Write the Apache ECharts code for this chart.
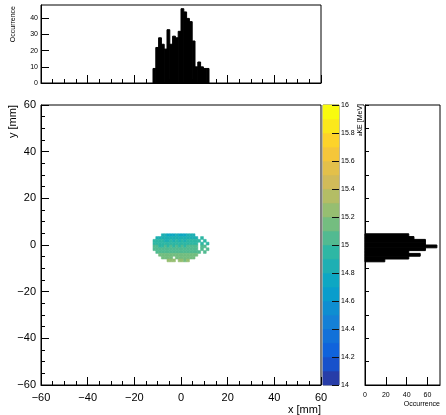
<!DOCTYPE html>
<html><head><meta charset="utf-8">
<script src="https://cdn.jsdelivr.net/npm/echarts@6/dist/echarts.min.js"></script>
<style>html,body{margin:0;padding:0;background:#fff}#c{width:446px;height:415px}</style>
</head><body><div id="c"></div>
<script>
// ---------- data ----------
const binWidth = 1.2;
const topHistStart = -12;
const topHistCounts = [9, 22, 28, 24, 21, 33, 24, 29, 28, 32, 46, 44, 40, 38, 26, 10, 13, 10, 9, 9];
const rightHistStart = -7.2;
const rightHistCounts = [19, 42, 53, 42, 58, 69, 58, 58, 47, 42];
const cellXStart = -12;
const rowYLow = [3.6, 2.4, 1.2, 0, -1.2, -2.4, -3.6, -4.8, -6, -7.2];
const row0 = [null,null,null,14.82,14.80,14.78,14.79,14.77,14.80,14.78,14.77,14.79,14.80,14.82,14.84,null,null,null,null,null];
const row1 = [null,14.88,14.86,14.84,14.82,14.81,14.83,14.80,14.83,14.81,14.83,14.85,14.83,14.85,14.87,14.89,null,14.90,null,null];
const row2 = [14.94,14.93,14.91,14.90,14.88,14.88,14.90,14.88,14.90,14.88,14.90,14.88,14.90,14.91,14.92,14.93,14.94,null,14.93,null];
const row3 = [14.97,14.96,14.95,14.94,14.95,14.94,14.95,14.93,14.95,14.94,14.95,14.94,14.95,14.96,14.95,14.97,null,14.96,null,14.97];
const row4 = [15.01,15.00,14.99,14.99,15.00,14.98,15.00,14.99,15.00,14.99,15.00,14.99,15.00,15.01,15.00,15.02,null,15.01,15.02,null];
const row5 = [15.04,15.03,15.02,15.03,15.02,15.03,15.02,15.03,15.02,15.03,15.02,15.03,15.04,15.03,15.04,15.05,null,15.04,null,15.03];
const row6 = [null,15.08,15.07,15.06,15.07,15.06,15.07,15.06,15.07,15.06,15.07,15.08,15.07,15.08,15.07,15.08,15.09,null,15.08,null];
const row7 = [null,null,15.13,15.12,15.13,15.12,15.13,15.11,15.13,15.12,15.13,15.12,15.14,15.13,15.14,15.15,null,null,null,null];
const row8 = [null,null,null,15.17,15.16,15.17,15.16,null,15.17,15.15,15.17,15.16,15.17,15.18,15.17,null,null,null,null,null];
const row9 = [null,null,null,null,null,15.21,15.20,15.22,null,15.20,15.21,15.19,15.22,null,null,null,null,null,null,null];
const colorLevels = [14.0,14.1,14.2,14.3,14.4,14.5,14.6,14.7,14.8,14.9,15.0,15.1,15.2,15.3,15.4,15.5,15.6,15.7,15.8,15.9];

// ---------- palette (ROOT kBird) ----------
const birdStops = [0, 0.125, 0.25, 0.375, 0.5, 0.625, 0.75, 0.875, 1];
const birdR = [0.2082, 0.0592, 0.0780, 0.0232, 0.1802, 0.5301, 0.8186, 0.9956, 0.9764];
const birdG = [0.1664, 0.3599, 0.5041, 0.6419, 0.7178, 0.7492, 0.7328, 0.7862, 0.9832];
const birdB = [0.5293, 0.8684, 0.8385, 0.7914, 0.6425, 0.4662, 0.3499, 0.1968, 0.0539];
function bird(f) {
  f = Math.max(0, Math.min(1, f));
  let k = 0;
  while (k < birdStops.length - 2 && f > birdStops[k + 1]) k++;
  const t = (f - birdStops[k]) / (birdStops[k + 1] - birdStops[k]);
  const c = a => Math.round(255 * (a[k] + t * (a[k + 1] - a[k])));
  return 'rgb(' + c(birdR) + ',' + c(birdG) + ',' + c(birdB) + ')';
}
const bandColors = colorLevels.map((l, i) => bird(Math.floor((i + 0.99) * 255 / 20) / 254));

// ---------- build series data ----------
const rows = [row0,row1,row2,row3,row4,row5,row6,row7,row8,row9];
const cellData = [];
rows.forEach((r, ri) => r.forEach((v, ci) => {
  if (v !== null) cellData.push([cellXStart + ci * binWidth, rowYLow[ri], v]);
}));
const topData = topHistCounts.map((c, i) => [topHistStart + i * binWidth, c]);
const rightData = rightHistCounts.map((c, i) => [rightHistStart + i * binWidth, c]);
const barData = colorLevels.map(l => [0, l, l + 0.05]);

const FONT = "'Liberation Sans', Arial, Helvetica, sans-serif";
const minus = v => String(v).replace('-', '\u2212');

function baseAxis(extra) {
  return Object.assign({
    type: 'value',
    axisLine: { show: true, onZero: false, lineStyle: { color: '#000', width: 1 } },
    axisTick: { show: true, inside: true, length: 8, lineStyle: { color: '#000', width: 1 } },
    minorTick: { show: true, splitNumber: 4, length: 4, lineStyle: { color: '#000', width: 1 } },
    splitLine: { show: false },
    minorSplitLine: { show: false },
    axisLabel: { show: true, color: '#000', fontFamily: FONT, fontSize: 11, formatter: minus }
  }, extra);
}

const chart = echarts.init(document.getElementById('c'), null, { renderer: 'canvas' });
chart.setOption({
  animation: false,
  backgroundColor: '#fff',
  textStyle: { fontFamily: FONT },
  grid: [
    { left: 41, top: 105, width: 280, height: 280, show: true, borderColor: '#000', borderWidth: 1, backgroundColor: 'transparent' },
    { left: 41, top: 5, width: 280, height: 78, show: true, borderColor: '#000', borderWidth: 1, backgroundColor: 'transparent' },
    { left: 365, top: 105, width: 75, height: 280, show: true, borderColor: '#000', borderWidth: 1, backgroundColor: 'transparent' },
    { left: 323, top: 105, width: 16, height: 280, show: true, borderColor: '#666', borderWidth: 1, backgroundColor: 'transparent' }
  ],
  xAxis: [
    baseAxis({ gridIndex: 0, min: -60, max: 60, interval: 20, axisLabel: { color: '#000', fontFamily: FONT, fontSize: 11, margin: 7, formatter: minus } }),
    baseAxis({ gridIndex: 1, min: -60, max: 60, interval: 20, axisLabel: { show: false } }),
    baseAxis({ gridIndex: 2, min: 0, max: 72, interval: 20, minorTick: { show: false },
      axisLabel: { color: '#000', fontFamily: FONT, fontSize: 7, margin: 7, showMaxLabel: false } }),
    { type: 'value', gridIndex: 3, min: 0, max: 1, show: false }
  ],
  yAxis: [
    baseAxis({ gridIndex: 0, min: -60, max: 60, interval: 20, axisLabel: { color: '#000', fontFamily: FONT, fontSize: 11, margin: 5, formatter: minus } }),
    baseAxis({ gridIndex: 1, min: 0, max: 48.3, interval: 10, minorTick: { show: false },
      axisLabel: { color: '#000', fontFamily: FONT, fontSize: 7, margin: 3, showMaxLabel: false } }),
    baseAxis({ gridIndex: 2, min: -60, max: 60, interval: 10, minorTick: { show: false }, axisLabel: { show: false },
      axisTick: { show: true, inside: true, length: 4, lineStyle: { color: '#000', width: 1 } } }),
    { type: 'value', gridIndex: 3, min: 14, max: 16, interval: 0.2, position: 'right', z: 10,
      axisLine: { show: false, onZero: false }, splitLine: { show: false },
      axisTick: { show: true, inside: true, length: 7, lineStyle: { color: '#111', width: 1 } },
      axisLabel: { color: '#000', fontFamily: FONT, fontSize: 7, margin: 2 } }
  ],
  visualMap: {
    type: 'piecewise', show: false, dimension: 2, seriesIndex: [0, 3],
    pieces: colorLevels.map((l, i) => i === colorLevels.length - 1
      ? { gte: l, lte: 16, color: bandColors[i] }
      : { gte: l, lt: colorLevels[i + 1], color: bandColors[i] })
  },
  series: [
    { type: 'custom', xAxisIndex: 0, yAxisIndex: 0, data: cellData, encode: { x: 0, y: 1 }, clip: true,
      renderItem: (p, api) => {
        const x0 = api.value(0), y0 = api.value(1);
        const a = api.coord([x0, y0 + binWidth]), b = api.coord([x0 + binWidth, y0]);
        const col = api.visual('color');
        return { type: 'rect', shape: { x: a[0], y: a[1], width: b[0] - a[0], height: b[1] - a[1] },
          style: { fill: col, stroke: col, lineWidth: 0.6 } };
      } },
    { type: 'custom', xAxisIndex: 1, yAxisIndex: 1, data: topData, encode: { x: 0, y: 1 },
      renderItem: (p, api) => {
        const x0 = api.value(0), c = api.value(1);
        const a = api.coord([x0, c]), b = api.coord([x0 + binWidth, 0]);
        return { type: 'rect', shape: { x: a[0], y: a[1], width: b[0] - a[0], height: b[1] - a[1] },
          style: { fill: '#000', stroke: '#000', lineWidth: 1 } };
      } },
    { type: 'custom', xAxisIndex: 2, yAxisIndex: 2, data: rightData, encode: { x: 1, y: 0 },
      renderItem: (p, api) => {
        const y0 = api.value(0), c = api.value(1);
        const a = api.coord([0, y0 + binWidth]), b = api.coord([c, y0]);
        return { type: 'rect', shape: { x: a[0], y: a[1], width: b[0] - a[0], height: b[1] - a[1] },
          style: { fill: '#000', stroke: '#000', lineWidth: 1 } };
      } },
    { type: 'custom', xAxisIndex: 3, yAxisIndex: 3, data: barData, encode: { x: 0, y: 1 }, z: 1,
      renderItem: (p, api) => {
        const l = api.value(1);
        const a = api.coord([0, l + 0.1]), b = api.coord([1, l]);
        const col = api.visual('color');
        return { type: 'rect', shape: { x: a[0], y: a[1], width: b[0] - a[0], height: b[1] - a[1] },
          style: { fill: col, stroke: col, lineWidth: 0.6 } };
      } }
  ],
  graphic: [
    { type: 'text', x: 321, y: 404, style: { text: 'x [mm]', font: '11px ' + FONT, fill: '#000', align: 'right', verticalAlign: 'top' } },
    { type: 'text', x: 13, y: 105, rotation: Math.PI / 2, style: { text: 'y [mm]', font: '11px ' + FONT, fill: '#000', align: 'right', verticalAlign: 'middle' } },
    { type: 'text', x: 13, y: 6, rotation: Math.PI / 2, style: { text: 'Occurrence', font: '7px ' + FONT, fill: '#000', align: 'right', verticalAlign: 'middle' } },
    { type: 'text', x: 440, y: 401, style: { text: 'Occurrence', font: '7px ' + FONT, fill: '#000', align: 'right', verticalAlign: 'top' } },
    { type: 'text', x: 360, y: 104, rotation: Math.PI / 2, style: { text: '{s|a}KE [MeV]', font: '7px ' + FONT, fill: '#000', align: 'right', verticalAlign: 'middle',
      rich: { s: { fontSize: 5, fontFamily: FONT, verticalAlign: 'bottom', fill: '#000' } } } }
  ]
});
</script>
</body></html>
